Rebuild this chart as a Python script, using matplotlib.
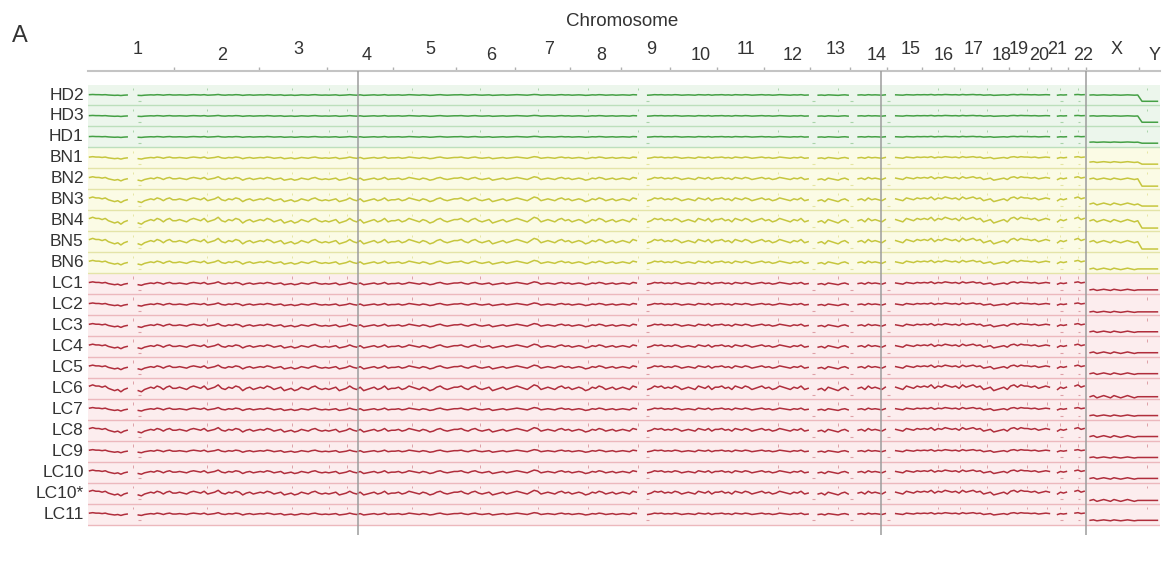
import numpy as np
import matplotlib.pyplot as plt

plt.rcParams['font.family'] = ['Liberation Sans', 'DejaVu Sans']

# chromosome sizes (Mb, hg19)
CHROMS = ['1', '2', '3', '4', '5', '6', '7', '8', '9', '10', '11', '12',
          '13', '14', '15', '16', '17', '18', '19', '20', '21', '22', 'X', 'Y']
CHROM_MB = [249.25, 243.2, 198.0, 191.15, 180.9, 171.1, 159.1, 146.4, 141.2,
            135.5, 135.0, 133.9, 115.2, 107.3, 102.5, 90.4, 81.2, 78.1, 59.1,
            63.0, 48.1, 51.3, 155.3, 59.4]

# unmappable stretches: chromosome -> (start Mb, end Mb)
GAPS = {'1': (122, 145), '9': (52, 75), '13': (0, 19), '14': (0, 19),
        '15': (0, 20), '21': (0, 14), '22': (0, 16), 'X': (0, 8)}

SAMPLES = ['HD2', 'HD3', 'HD1', 'BN1', 'BN2', 'BN3', 'BN4', 'BN5', 'BN6',
           'LC1', 'LC2', 'LC3', 'LC4', 'LC5', 'LC6', 'LC7', 'LC8', 'LC9',
           'LC10', 'LC10*', 'LC11']
GROUPS = ['HD'] * 3 + ['BN'] * 6 + ['LC'] * 12

# per-sample wiggle strength and sex chromosome shift (row units)
AMPLITUDE = [0.15, 0.15, 0.15, 0.35, 0.6, 0.8, 1.0, 0.95, 0.65,
             0.5, 0.45, 0.55, 0.65, 0.65, 1.0, 0.5, 0.75, 0.45, 0.6, 0.8, 0.4]
X_SHIFT = [0.0, 0.0, -0.25, -0.2, 0.0, -0.2, 0.0, 0.0, -0.3,
           -0.3, -0.35, -0.3, -0.3, -0.3, -0.4, -0.3, -0.3, -0.3, -0.3, -0.35, -0.3]
Y_SHIFT = [-0.3, -0.3, -0.3, -0.3, -0.35, -0.3, -0.35, -0.35, -0.3,
           -0.3, -0.35, -0.3, -0.3, -0.3, -0.4, -0.3, -0.3, -0.3, -0.3, -0.35, -0.3]

# shared bin profile along each chromosome (mappable bins only)
PROFILE = [
    [2, 3, 2, 2, 1, 2, 0, -1, -2, -1, -3, -1, 0, -2, -3, -1, 0, 1, 0, 2, 1, -1, 1, 2, 0],
    [0, 1, 0, -1, 1, 2, 1, 0, 2, -1, 0, 1, 3, 0, -1, 1, 0, 2, 1, -2, 0, 1, -1, 0],
    [1, 0, 2, 1, -1, 0, 1, -2, -1, 0, -2, -1, 1, 0, -1, 1, 2, 0, -1, 0],
    [-1, 0, 1, -2, -1, 0, 2, 0, -1, 1, -2, -1, 0, 1, -1, 0, 2, -1, 0],
    [0, 1, -1, 0, 2, 1, 0, -1, 1, 0, -2, -1, 1, 2, 0, -1, 0, 1],
    [1, 2, 0, -1, 1, 2, 0, -1, 0, 1, -2, -1, 0, 1, -1, 0, 1],
    [2, 1, 0, -1, 1, 3, 2, -1, 0, 1, 0, -1, 1, 2, 0, 1],
    [-1, 0, 1, 0, -2, -1, 1, 0, 2, 1, -1, 0, 1, -1, 0],
    [1, 0, -1, 2, 1, -1, 0, 2, 1, 2, 0, 1],
    [0, 2, 1, -1, 0, 1, 0, -1, 2, 1, 0, 2, -1, 1],
    [1, 2, 0, 1, -1, 2, 1, 0, 2, 1, -1, 0, 1, 2],
    [0, 1, -1, 0, 2, 1, 0, -1, 1, 0, 2, -1, 0],
    [-1, 0, -2, 1, 0, -1, -2, 0, 1, -1],
    [0, 1, -1, 2, 0, 1, 0, -1, 1],
    [1, 0, -1, 2, 1, 0, 2, 1],
    [2, 1, 3, 0, 2, 1, 3, 2, 1],
    [2, 0, 3, 1, 2, 3, 1, 2],
    [-1, 0, 1, -2, -1, 0, 1, -1],
    [2, 3, 1, 3, 2, 2],
    [1, 2, 0, 1, 2, 1],
    [-1, 1, 0, 1],
    [2, 3, 1, 2],
    [0, 1, -1, 0, 1, 0, -1, 1, 0, -1, 0, 1, 0, -1, 0],
    [0, 0, 0, 0],
]

# recurrent outlier bins (genome Mb)
OUTLIER_MB = [130, 344, 589, 696, 748, 936, 1132, 1299, 1444, 1588, 1992,
              2166, 2455, 2518, 2596, 2712, 2769, 2807, 2859, 3058]
LOW_OUTLIER_MB = [148, 1615, 2095, 2205, 2312, 2812, 2862]
GUIDE_MB = [780, 2290, 2882]

STYLE = {
    'HD': dict(band='#ecf6ec', sep='#bcdfbc', line='#45a045'),
    'BN': dict(band='#fbfbe5', sep='#e4e4a8', line='#c6c63e'),
    'LC': dict(band='#fcedee', sep='#ecb8bd', line='#b02e3c'),
}
# horizontal nudge of chromosome labels from the chromosome centre (px)
LABEL_NUDGE = {'10': 7, '14': 8, '19': 0, '20': -1, '21': -2, 'X': 4, 'Y': 5}

starts = np.concatenate([[0], np.cumsum(CHROM_MB)[:-1]])
total = float(np.sum(CHROM_MB))

# place each chromosome's bins across its mappable part, NaN in the gap
xs, pattern, chrom_of = [], [], []
for s, L, c, prof in zip(starts, CHROM_MB, CHROMS, PROFILE):
    g0, g1 = GAPS.get(c, (0, 0))
    n = len(prof)
    usable = L - (g1 - g0)
    t = (np.arange(n) + 0.5) * usable / n
    pos = np.where(t < g0, t, t + (g1 - g0))
    vals = np.array(prof, dtype=float)
    if g1 > g0:
        pos = np.append(pos, (g0 + g1) / 2)
        vals = np.append(vals, np.nan)
        order = np.argsort(pos)
        pos, vals = pos[order], vals[order]
    xs.extend(s + pos)
    pattern.extend(vals)
    chrom_of.extend([c] * len(pos))
xs = np.array(xs)
pattern = np.array(pattern, dtype=float)
chrom_of = np.array(chrom_of)
UNIT = 0.055

low_mb = np.array(LOW_OUTLIER_MB, dtype=float)

W, H = 1166, 561
fig = plt.figure(figsize=(W / 100, H / 100), dpi=100)
fig.set_facecolor('white')
ax = fig.add_axes([88 / W, (H - 535) / H, (1160 - 88) / W, (535 - 71) / H])

for i, (name, grp) in enumerate(zip(SAMPLES, GROUPS)):
    st = STYLE[grp]
    y0 = -i
    vals = y0 + AMPLITUDE[i] * UNIT * pattern
    vals = np.where(chrom_of == 'X', vals + X_SHIFT[i], vals)
    vals = np.where(chrom_of == 'Y', vals + Y_SHIFT[i], vals)

    ax.axhspan(y0 - 0.5, y0 + 0.5, color=st['band'], lw=0, zorder=0)
    ax.axhline(y0 - 0.5, color=st['sep'], lw=1.0, zorder=1)
    ax.plot(xs, vals, color=st['line'], lw=1.1, zorder=3)
    ax.vlines(OUTLIER_MB, y0 + 0.22, y0 + 0.34, color=st['line'], lw=0.7, alpha=0.4, zorder=2)
    ax.hlines(np.full(low_mb.size, y0 - 0.3), low_mb - 4, low_mb + 4,
              color=st['line'], lw=0.8, alpha=0.4, zorder=2)

    ax.annotate(name, xy=(0, y0), xycoords=('axes fraction', 'data'),
                xytext=(-3, 0), textcoords='offset points',
                ha='right', va='center', fontsize=12.5, color='#333333')

for g in GUIDE_MB:
    ax.axvline(g, color='#9c9c9c', lw=1.1, zorder=4)

# chromosome labels, staggered on two levels
for k, (s, L, c) in enumerate(zip(starts, CHROM_MB, CHROMS)):
    off = 15.5 if k % 2 == 0 else 11.5
    dx = LABEL_NUDGE.get(c, 6) * 0.72
    ax.annotate(c, xy=(s + L / 2, 1), xycoords=('data', 'axes fraction'),
                xytext=(dx, off), textcoords='offset points',
                ha='center', va='center', fontsize=13, color='#333333')

ax.set_xlim(0, total)
ax.set_ylim(-21.0, 1.146)
ax.xaxis.tick_top()
ax.set_xticks(np.cumsum(CHROM_MB)[:-1])
ax.set_xticklabels([])
ax.tick_params(axis='x', direction='out', length=3, width=1, color='#b0b0b0')
ax.set_yticks([])
for side in ['left', 'right', 'bottom']:
    ax.spines[side].set_visible(False)
ax.spines['top'].set_color('#c4c4c4')
ax.spines['top'].set_linewidth(1.5)

fig.text(622 / W, 1 - 22 / H, 'Chromosome', ha='center', va='center', fontsize=13.5, color='#333333')
fig.text(12 / W, 1 - 36 / H, 'A', ha='left', va='center', fontsize=17, color='#333333')

fig.savefig('out.png', dpi=100, facecolor='white')
